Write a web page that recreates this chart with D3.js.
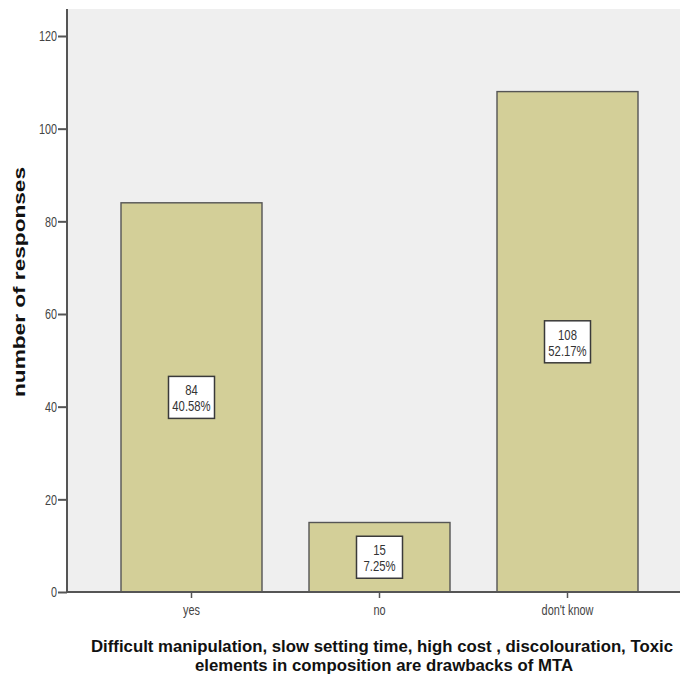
<!DOCTYPE html>
<html><head><meta charset="utf-8">
<script src="https://cdn.jsdelivr.net/npm/d3@7"></script>
<style>
html,body{margin:0;padding:0;background:#fff;}
svg{display:block;}
text{font-family:"Liberation Sans",Arial,sans-serif;}
</style></head>
<body>
<script>
const categories = ["yes", "no", "don't know"];
const counts = [84, 15, 108];
const percents = ["40.58%", "7.25%", "52.17%"];
const yTicks = [0, 20, 40, 60, 80, 100, 120];
const yTitle = "number of responses";
const xTitleLines = ["Difficult manipulation, slow setting time, high cost , discolouration, Toxic",
                     "elements in composition are drawbacks of MTA"];

const W = 680, H = 682;
const svg = d3.select("body").append("svg").attr("width", W).attr("height", H);

const axisX = 67, panelTop = 9, panelBottom = 592;
const sx = 0.78;
const y = d3.scaleLinear().domain([0, 120]).range([panelBottom, 36]);
const x = d3.scaleBand().domain(categories).range([74, 685]).paddingInner(0.25).paddingOuter(0.25);

// panel
svg.append("rect").attr("x", axisX).attr("y", panelTop).attr("width", W - axisX).attr("height", panelBottom - panelTop).attr("fill", "#efefef");

// bars
svg.selectAll("rect.bar").data(categories).enter().append("rect")
  .attr("class", "bar")
  .attr("x", d => x(d))
  .attr("y", (d, i) => y(counts[i]))
  .attr("width", x.bandwidth())
  .attr("height", (d, i) => y(0) - y(counts[i]))
  .attr("fill", "#d3cf98").attr("stroke", "#555").attr("stroke-width", 1.4);

// labels
const lab = svg.selectAll("g.lab").data(categories).enter().append("g")
  .attr("transform", (d, i) => `translate(${x(d) + x.bandwidth() / 2},${y(counts[i] / 2)})`);
lab.append("rect").attr("x", -23).attr("y", -21).attr("width", 46).attr("height", 42)
  .attr("fill", "#fff").attr("stroke", "#3a3a3a").attr("stroke-width", 1.5);
lab.append("text").attr("text-anchor", "middle").attr("y", -2).attr("font-size", 14.5).attr("fill", "#333")
  .attr("transform", `scale(${sx},1)`).text((d, i) => counts[i]);
lab.append("text").attr("text-anchor", "middle").attr("y", 14).attr("font-size", 14.5).attr("fill", "#333")
  .attr("transform", `scale(${sx},1)`).text((d, i) => percents[i]);

// y axis
const ya = svg.append("g").attr("transform", `translate(${axisX},0)`)
  .call(d3.axisLeft(y).tickValues(yTicks).tickSize(9).tickPadding(2));
ya.select(".domain").remove();
ya.append("line").attr("x1", 0).attr("x2", 0).attr("y1", panelTop).attr("y2", panelBottom).attr("stroke", "#555").attr("stroke-width", 2);
ya.selectAll(".tick line").attr("stroke", "#555").attr("stroke-width", 2);
ya.selectAll(".tick text").attr("font-size", 15).attr("fill", "#444").attr("font-family", null)
  .attr("x", -10 / 0.72).attr("transform", "scale(0.72,1)");

// x axis
const xa = svg.append("g").attr("transform", `translate(0,${panelBottom})`)
  .call(d3.axisBottom(x).tickSize(6).tickPadding(8));
xa.select(".domain").remove();
xa.append("line").attr("x1", axisX).attr("x2", W).attr("y1", 0).attr("y2", 0).attr("stroke", "#555").attr("stroke-width", 2);
xa.selectAll(".tick line").attr("stroke", "#555").attr("stroke-width", 1.5);
xa.selectAll(".tick text").attr("font-size", 14).attr("fill", "#444").attr("font-family", null)
  .attr("y", 13).attr("transform", `scale(${sx},1)`);

// y title
svg.append("text").attr("transform", "translate(25,282) rotate(-90)")
  .attr("text-anchor", "middle").attr("font-size", 17).attr("font-weight", "bold").attr("fill", "#111")
  .attr("textLength", 230).attr("lengthAdjust", "spacingAndGlyphs").text(yTitle);

// x title
svg.append("text").attr("x", 382).attr("y", 652).attr("text-anchor", "middle").attr("font-size", 16.8).attr("font-weight", "bold").attr("fill", "#111")
  .attr("textLength", 582).attr("lengthAdjust", "spacingAndGlyphs").text(xTitleLines[0]);
svg.append("text").attr("x", 384).attr("y", 671).attr("text-anchor", "middle").attr("font-size", 16.8).attr("font-weight", "bold").attr("fill", "#111")
  .attr("textLength", 378).attr("lengthAdjust", "spacingAndGlyphs").text(xTitleLines[1]);
</script>
</body></html>
